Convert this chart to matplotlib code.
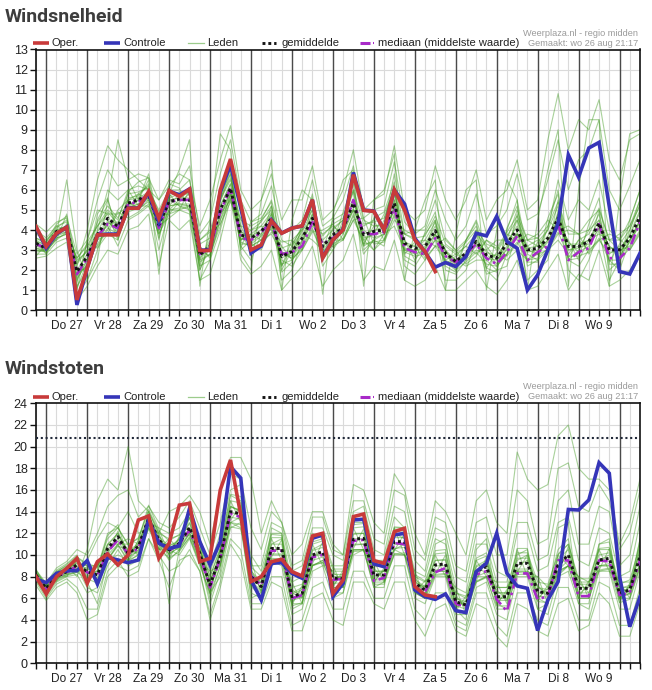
import numpy as np
import matplotlib
matplotlib.use("Agg")
import matplotlib.pyplot as plt

# ---------------- data ----------------
day_labels = ["Do 27", "Vr 28", "Za 29", "Zo 30", "Ma 31", "Di 1", "Wo 2",
              "Do 3", "Vr 4", "Za 5", "Zo 6", "Ma 7", "Di 8", "Wo 9"]
n_steps = 60  # 6-hourly steps, wo 26 18:00 .. do 10 12:00

speed_oper = [4.18,3.18,3.84,4.14, 0.52,2.1,3.76,3.76, 3.76,5.09,5.09,5.92, 4.59,5.97,5.67,6.04,
              2.98,2.98,6.0,7.54, 5.3,3.01,3.26,4.46, 3.84,4.09,4.21,5.51, 2.6,3.51,4.01,6.76,
              4.98,4.93,4.01,6.01, 5.0,3.51,2.93,1.93]
speed_ctrl = [4.15,3.1,3.8,4.15, 0.27,2.1,3.75,3.8, 3.8,5.1,5.1,5.85, 4.4,5.95,5.75,6.05,
              3.0,3.0,5.9,7.25, 5.1,2.85,3.2,4.5, 3.85,4.1,4.2,5.5, 2.65,3.5,4.05,6.87,
              5.0,4.95,4.0,6.0, 5.3,3.6,2.9,2.15, 2.38,2.18,2.68,3.84, 3.71,4.68,3.43,3.09,
              1.01,1.76,3.01,4.34, 7.75,6.64,8.09,8.37, 5.17,1.93,1.81,2.85]
speed_mean = [3.34,3.09,3.93,4.09, 1.93,2.68,3.76,4.59, 4.18,5.34,5.51,5.76, 4.26,5.42,5.54,5.51,
              2.76,3.21,5.01,6.09, 3.76,3.59,3.93,4.59, 2.68,2.93,3.59,4.59, 3.18,3.76,4.09,5.34,
              3.76,3.93,4.01,5.34, 3.34,3.09,3.18,3.97, 2.85,2.43,2.85,3.43, 2.76,2.6,3.34,4.01,
              3.01,3.09,3.59,4.59, 3.18,3.18,3.43,4.34, 3.01,3.01,3.59,4.68]
speed_median = [3.3,3.1,3.8,4.1, 1.8,2.6,3.7,4.3, 4.1,5.3,5.4,5.8, 4.1,5.4,5.5,5.5,
                2.8,3.1,4.9,6.1, 3.6,3.5,3.9,4.4, 2.8,2.9,3.2,4.4, 3.3,3.6,4.0,5.5,
                3.8,3.8,3.9,5.1, 3.1,2.9,2.8,3.6, 2.7,2.4,2.8,3.3, 2.6,2.3,2.9,3.7,
                2.5,2.9,3.2,4.3, 2.5,2.9,3.1,4.3, 2.6,2.6,3.1,4.4]
speed_leden = [
    [4.3,3.9,4.4,4.6, 2.8,3.5,5.5,7.0, 6.2,6.5,6.8,6.6, 5.5,6.5,6.3,7.2, 3.8,4.5,6.8,8.5, 5.5,4.4,4.8,6.2,
     3.8,4.0,4.5,6.5, 4.2,4.6,5.5,7.2, 4.6,5.0,5.2,7.4, 4.4,3.8,4.2,6.0, 4.5,3.5,4.2,5.8, 3.8,4.2,5.0,6.8,
     4.5,4.8,6.5,8.5, 6.0,7.5,8.0,9.5, 6.0,5.0,6.2,7.5],
    [2.6,2.7,3.1,3.4, 0.5,1.2,2.2,3.0, 2.8,4.0,4.2,4.8, 2.2,4.5,4.0,4.5, 1.5,1.8,3.5,5.6, 2.5,1.8,2.2,3.0,
     1.0,1.6,2.2,3.2, 1.2,2.0,2.5,3.8, 1.5,2.2,2.0,3.5, 1.5,1.2,1.5,2.2, 1.0,1.0,1.5,2.0, 1.2,0.8,1.5,2.5,
     1.0,1.2,2.0,2.8, 1.0,1.8,1.5,3.0, 1.2,1.5,2.0,2.8],
    [3.5,3.2,4.2,4.4, 1.2,2.0,4.5,5.5, 4.0,5.0,5.8,6.2, 3.5,5.8,5.2,5.0, 2.5,3.5,5.8,6.8, 4.2,3.2,3.5,5.2,
     2.0,3.0,4.0,5.8, 2.5,3.2,4.5,6.0, 3.0,3.5,4.5,6.2, 2.5,2.2,3.0,4.5, 2.0,1.8,2.5,4.0, 2.0,1.5,2.8,4.8,
     2.2,2.5,3.0,5.5, 2.5,2.2,3.0,5.0, 2.0,2.5,4.0,5.5],
    [3.0,2.9,3.6,3.8, 2.4,3.0,3.2,4.0, 5.0,5.5,5.0,5.5, 4.8,5.2,5.8,5.8, 3.2,2.6,4.5,6.0, 3.5,4.0,4.2,4.0,
     3.2,2.5,3.2,4.2, 3.8,4.2,3.8,5.0, 4.2,4.5,3.5,4.8, 3.8,3.5,2.8,3.5, 3.2,2.8,3.2,2.8, 3.5,3.0,3.8,3.5,
     3.5,3.8,4.5,4.0, 4.2,3.8,4.5,5.0, 3.5,3.8,4.2,5.2],
    [3.8,3.5,4.0,4.2, 1.5,2.5,4.0,6.0, 5.5,6.0,5.2,5.2, 4.0,5.0,5.5,6.0, 2.2,3.8,5.5,7.0, 3.0,3.5,4.5,5.0,
     2.2,3.5,4.0,4.5, 3.0,4.5,4.8,5.5, 3.5,3.8,4.8,6.0, 3.0,2.8,3.8,4.5, 2.5,2.2,3.5,4.2, 2.5,2.0,4.0,5.5,
     2.8,2.5,4.2,6.0, 2.5,3.0,4.0,4.5, 2.5,2.0,3.5,4.5],
    [2.9,3.0,3.8,3.9, 2.0,2.8,3.5,3.8, 3.5,5.0,5.5,5.6, 4.5,5.5,5.2,5.2, 2.8,3.0,4.8,5.5, 3.8,3.0,3.2,4.5,
     2.5,2.2,3.0,4.0, 2.8,3.5,3.5,4.5, 3.5,3.0,3.8,5.0, 3.0,3.0,3.5,3.2, 3.0,2.5,2.2,2.5, 2.5,2.8,2.5,3.0,
     2.5,2.8,3.0,3.5, 2.8,3.5,3.0,3.5, 2.8,3.2,3.0,3.8],
    [3.2,3.0,3.5,4.8, 2.2,4.0,6.5,8.2, 7.5,7.0,6.5,6.0, 5.5,6.2,6.8,6.5, 4.2,5.5,7.5,9.2, 6.0,5.0,5.5,6.8,
     4.5,5.5,5.5,7.2, 4.5,5.0,6.0,8.0, 5.0,5.5,5.8,8.2, 5.0,4.5,5.0,7.2, 5.5,4.5,5.5,7.0, 4.5,5.5,6.0,7.5,
     5.0,5.5,8.5,10.8, 8.0,9.5,9.0,10.5, 7.5,6.5,8.5,8.8],
    [3.4,3.3,3.9,4.0, 0.8,1.5,3.0,4.5, 3.8,5.5,5.8,5.5, 3.0,5.0,5.0,4.8, 1.5,2.5,4.0,5.8, 3.2,2.5,3.8,4.8,
     1.5,2.0,3.5,4.8, 2.2,3.0,4.2,5.0, 2.8,3.5,3.2,5.5, 2.2,1.8,2.5,3.8, 1.5,1.5,2.0,3.5, 1.8,2.0,2.2,4.0,
     1.5,2.0,2.5,5.0, 2.0,1.5,2.5,4.0, 1.5,2.5,3.5,4.2],
    [4.0,3.6,4.2,4.0, 2.6,3.2,4.2,5.0, 4.5,6.0,6.2,6.0, 5.0,6.0,6.0,6.5, 3.5,4.0,5.5,6.5, 4.5,4.2,4.5,5.5,
     3.5,3.2,4.2,5.0, 3.5,4.0,4.5,6.5, 4.5,4.2,4.2,6.8, 3.8,4.0,4.0,5.5, 3.5,3.0,3.5,4.5, 3.0,3.5,3.5,5.0,
     3.5,3.2,4.0,6.5, 4.5,5.5,5.0,6.5, 4.0,3.5,4.5,6.0],
    [2.8,2.8,3.4,3.6, 1.8,2.2,3.8,4.2, 3.2,4.5,4.8,5.2, 3.8,4.8,5.4,5.8, 2.5,2.8,4.2,5.8, 3.5,3.8,3.5,3.8,
     2.8,3.0,3.8,3.5, 3.0,3.2,3.5,4.8, 3.2,3.5,3.8,4.2, 3.0,3.2,2.5,3.2, 2.5,2.8,2.5,3.0, 2.8,2.2,2.8,3.8,
     3.0,2.8,3.5,4.2, 3.5,2.5,3.5,3.8, 3.5,3.0,3.2,4.5],
    [3.6,3.3,3.8,6.5, 3.0,1.5,2.5,5.5, 8.5,6.5,5.5,6.5, 1.8,5.8,7.0,8.5, 1.2,4.5,8.8,8.0, 2.8,2.0,5.5,7.5,
     1.0,4.5,6.0,5.5, 0.8,4.8,6.5,7.0, 1.2,5.5,6.0,7.8, 1.5,4.0,5.5,6.5, 1.0,3.8,6.0,6.5, 1.0,4.0,6.5,5.5,
     1.0,4.5,7.0,9.0, 1.2,6.0,9.5,9.5, 1.2,5.5,8.8,9.0],
    [3.1,3.0,3.7,4.3, 1.0,3.5,5.0,4.8, 4.8,5.2,5.5,6.8, 4.2,4.6,5.0,5.2, 2.0,3.2,5.2,6.3, 3.3,3.3,3.0,4.2,
     2.8,2.6,3.0,5.5, 3.0,3.0,3.8,5.5, 3.8,3.0,3.5,5.2, 3.5,2.5,3.2,4.0, 3.0,2.0,2.8,3.8, 3.2,2.5,3.0,4.5,
     3.2,3.5,3.0,4.8, 3.0,3.2,3.5,4.2, 3.2,2.8,3.8,5.0],
    [3.6,3.4,4.1,4.5, 2.3,3.0,4.4,5.2, 4.6,5.8,5.9,6.1, 4.9,5.7,5.9,5.9, 3.3,3.6,5.6,6.6, 4.2,4.0,4.4,5.2,
     3.1,3.3,4.1,5.2, 3.7,4.3,4.6,6.0, 4.3,4.4,4.6,6.0, 3.8,3.6,3.7,4.7, 3.3,2.9,3.4,4.0, 3.3,3.1,3.9,4.7,
     3.5,3.6,4.2,5.4, 3.8,3.8,4.0,5.1, 3.5,3.5,4.2,5.5],
    [3.1,2.9,3.6,3.8, 1.6,2.3,3.3,4.1, 3.8,4.9,5.1,5.4, 3.8,5.0,5.1,5.1, 2.4,2.8,4.5,5.6, 3.4,3.2,3.5,4.1,
     2.3,2.5,3.1,4.1, 2.8,3.3,3.6,4.7, 3.3,3.4,3.5,4.7, 2.9,2.7,2.8,3.5, 2.4,2.0,2.4,2.9, 2.3,2.2,2.8,3.4,
     2.5,2.6,3.1,3.9, 2.7,2.7,2.9,3.6, 2.5,2.5,3.1,4.0],
    [3.9,3.4,4.3,4.7, 1.1,2.4,4.8,5.6, 3.6,5.9,6.4,6.6, 3.9,6.3,6.1,4.9, 2.2,2.5,5.6,7.2, 3.1,4.4,4.6,5.4,
     1.9,2.4,4.3,5.6, 2.6,3.3,4.9,6.3, 3.2,4.6,4.9,6.4, 2.7,2.4,3.9,4.9, 2.2,1.9,3.5,4.4, 2.1,1.9,4.1,5.2,
     2.4,2.4,4.6,5.8, 2.5,2.6,4.3,5.6, 2.3,2.3,4.5,6.0],
    [2.7,3.3,3.5,3.9, 2.6,3.3,3.1,3.8, 4.9,4.6,4.9,5.3, 4.7,4.8,5.0,6.0, 3.5,3.9,4.3,5.4, 4.6,3.0,3.3,3.9,
     3.4,3.5,3.0,3.9, 4.0,4.3,3.5,4.5, 4.6,3.3,3.4,4.5, 4.0,3.7,2.6,3.2, 3.6,3.0,2.3,2.7, 3.5,3.2,2.7,3.3,
     3.8,3.6,3.0,3.8, 4.0,3.8,2.8,3.5, 3.8,3.6,3.0,3.9],
    [3.5,2.8,4.0,4.2, 1.4,3.4,4.2,4.8, 3.5,5.6,5.7,6.3, 3.6,5.6,5.8,5.9, 2.0,3.4,5.4,6.8, 3.5,3.8,4.2,4.9,
     2.2,3.2,3.9,5.0, 2.6,4.1,4.5,5.9, 3.3,4.2,4.3,5.9, 2.8,3.4,3.5,4.4, 2.3,2.7,3.2,3.8, 2.1,2.9,3.7,4.5,
     2.4,3.4,4.0,5.2, 2.6,3.5,3.8,4.8, 2.4,3.3,4.0,5.3],
    [3.2,3.2,3.7,3.9, 2.1,2.0,3.5,4.3, 4.4,5.1,5.3,5.5, 4.4,5.2,5.3,5.2, 3.0,2.7,4.7,5.8, 4.0,3.3,3.7,4.3,
     2.9,2.6,3.4,4.4, 3.4,3.5,3.9,5.0, 4.0,3.6,3.8,5.0, 3.5,2.8,3.0,3.8, 3.0,2.2,2.6,3.2, 3.0,2.3,3.1,3.8,
     3.2,2.8,3.4,4.4, 3.4,2.9,3.2,4.1, 3.2,2.7,3.4,4.4],
    [3.4,3.1,3.9,4.2, 2.5,2.9,3.9,4.9, 4.3,5.5,5.6,5.9, 4.6,5.5,5.6,5.6, 2.6,3.3,5.2,6.3, 3.9,3.7,4.0,4.8,
     2.6,2.9,3.7,4.8, 3.1,3.8,4.2,5.5, 3.8,4.0,4.1,5.5, 3.4,3.2,3.3,4.2, 2.9,2.5,2.9,3.5, 2.9,2.7,3.4,4.2,
     3.1,3.2,3.7,4.8, 3.3,3.3,3.5,4.5, 3.1,3.1,3.7,4.9],
    [3.0,3.0,3.8,4.0, 1.7,2.5,3.6,4.4, 4.0,5.1,5.3,5.6, 4.0,5.2,5.3,5.3, 3.0,3.0,4.8,5.9, 3.6,3.4,3.8,4.4,
     2.9,2.7,3.5,4.4, 3.0,3.6,4.0,5.1, 3.6,3.8,3.9,5.1, 3.1,3.0,3.1,3.8, 2.7,2.3,2.8,3.3, 2.6,2.5,3.2,3.8,
     2.9,3.0,3.5,4.4, 3.0,3.1,3.3,4.1, 2.9,2.9,3.5,4.5],
]

gust_oper = [8.0,6.4,8.0,8.77, 9.69,7.38,9.38,10.09, 9.08,10.0,13.23,13.6, 9.69,11.08,14.6,14.77,
             9.38,9.69,16.0,18.77, 13.7,7.54,8.0,9.38, 9.6,8.46,8.06,11.75, 12.0,6.46,7.69,13.54,
             13.78,9.48,9.23,12.15, 12.46,7.08,6.31,6.15]
gust_ctrl = [7.75,7.45,8.3,8.55, 8.55,9.48,7.32,9.78, 9.54,9.29,9.54,13.23, 11.08,10.6,10.83,14.3,
             11.23,9.08,11.23,18.15, 17.1,7.69,5.85,9.23, 9.29,8.3,7.85,11.54, 11.85,6.15,7.38,13.23,
             13.3,9.17,8.92,11.85, 12.0,6.77,6.15,5.9, 6.4,4.86,4.68,8.46, 9.23,12.0,8.31,7.14,
             6.92,3.02,5.85,7.54, 14.2,14.15,15.08,18.52, 17.54,8.0,3.38,6.15]
gust_mean = [8.15,6.92,8.0,8.46, 9.08,8.46,8.15,10.6, 11.69,10.15,10.77,13.38, 11.38,10.46,11.08,12.55,
             10.15,7.23,9.85,14.0, 13.8,8.0,7.08,10.6, 10.6,6.15,6.46,10.0, 10.3,7.85,7.85,11.45,
             11.54,8.15,8.15,11.23, 11.23,7.38,6.77,9.08, 9.17,5.69,5.38,8.46, 8.92,6.15,6.15,9.23,
             9.23,6.62,6.46,9.08, 10.0,6.92,6.92,9.54, 9.69,6.46,6.77,9.85]
gust_median = [8.1,6.9,8.0,8.4, 9.0,8.4,8.1,10.3, 11.4,10.1,10.6,13.2, 11.3,10.4,11.0,12.3,
               10.0,7.0,9.7,13.8, 13.5,8.1,7.2,10.4, 10.4,6.0,6.3,9.8, 10.0,7.7,7.8,11.3,
               11.4,7.6,7.9,11.1, 11.0,7.0,6.6,8.4, 8.8,5.5,5.2,8.2, 8.5,5.9,4.8,8.3,
               8.3,5.9,6.2,9.5, 9.5,6.2,6.2,9.5, 9.4,6.3,6.5,9.5]
gust_threshold = 20.8
gust_leden = [
    [8.6,7.4,8.8,9.4, 10.5,10.0,12.0,14.5, 15.5,16.0,13.5,14.5, 13.0,12.5,13.5,15.0, 12.5,10.0,13.0,17.5,
     17.0,12.5,10.5,14.0, 13.0,9.0,9.5,13.5, 13.5,10.5,10.0,15.0, 15.0,11.5,11.0,16.0, 15.5,10.5,9.5,13.5,
     13.0,9.0,8.5,13.0, 13.5,10.0,10.0,16.0, 15.0,11.0,11.5,18.0, 18.5,14.5,14.0,16.5, 15.0,10.5,12.0,16.0],
    [7.2,5.8,7.0,7.5, 6.5,4.0,4.5,8.0, 9.0,8.5,9.0,11.5, 9.5,7.0,9.5,10.0, 8.5,4.0,7.0,11.0,
     9.5,5.0,5.0,7.5, 7.0,3.0,3.0,6.0, 6.5,4.0,3.5,7.5, 7.5,5.5,5.0,7.5, 7.5,4.0,2.5,5.0,
     5.5,3.0,2.5,5.5, 5.0,2.5,1.5,5.5, 5.0,3.0,2.5,5.5, 6.0,3.0,3.5,6.5, 5.5,2.5,2.5,5.5],
    [8.0,7.0,8.2,8.6, 9.0,8.0,8.5,11.0, 12.0,10.0,11.0,13.5, 11.5,10.5,11.5,13.0, 10.5,7.5,10.0,14.5,
     14.0,8.5,7.5,11.0, 11.5,6.5,7.0,10.5, 11.0,8.0,8.0,12.0, 12.0,8.5,8.5,12.0, 11.5,7.5,7.0,9.5,
     9.5,6.0,5.5,9.0, 9.5,6.5,6.5,9.5, 10.0,7.0,6.5,10.0, 11.0,7.5,7.5,10.5, 10.5,7.0,7.0,10.5],
    [7.6,6.5,7.8,8.2, 8.5,9.5,11.5,13.0, 12.5,14.0,12.0,12.5, 11.0,5.5,10.5,12.0, 9.5,6.0,9.0,13.0,
     13.5,7.5,6.5,12.5, 12.0,5.0,5.5,11.5, 12.0,6.5,6.5,10.5, 10.5,7.0,7.0,12.5, 12.5,6.5,6.0,11.0,
     11.5,5.0,4.0,10.5, 11.5,5.5,5.0,10.0, 10.5,5.0,5.5,12.5, 13.0,5.5,5.5,11.0, 11.5,6.0,6.5,11.5],
    [8.3,6.8,8.5,9.0, 8.0,10.5,15.0,17.0, 16.0,20.0,15.0,14.0, 12.0,14.0,14.5,15.5, 14.0,11.0,16.0,19.0,
     19.0,17.0,12.0,15.0, 13.0,10.0,11.0,14.0, 14.0,11.0,10.0,16.5, 16.0,13.0,12.0,17.5, 16.0,12.0,10.0,15.0,
     14.0,12.0,10.0,15.0, 16.0,13.0,12.0,19.5, 17.0,16.0,16.5,21.0, 22.0,18.0,17.0,17.0, 16.0,11.0,13.0,17.0],
    [8.1,7.1,7.9,8.4, 9.5,8.5,7.5,10.0, 11.0,9.5,10.5,13.0, 11.0,11.0,11.0,12.5, 10.0,7.0,9.5,14.0,
     13.5,8.0,7.0,10.5, 10.5,6.0,6.5,10.0, 10.0,7.5,8.0,11.5, 11.5,8.0,8.5,11.0, 11.0,7.5,7.0,9.0,
     9.0,5.5,5.5,8.5, 9.0,6.0,6.0,9.0, 9.5,6.5,6.5,9.0, 10.0,7.0,7.0,9.5, 10.0,6.5,7.0,10.0],
    [7.9,6.6,8.1,8.3, 9.8,9.0,9.0,10.5, 11.5,10.5,10.0,13.5, 11.8,10.0,10.8,12.5, 10.5,8.0,10.5,14.5,
     14.0,7.0,8.0,10.0, 10.0,6.5,6.0,9.0, 9.5,8.5,8.5,11.0, 11.0,9.0,9.0,10.5, 11.0,8.0,7.5,8.5,
     8.5,6.5,6.0,8.0, 8.0,7.0,7.0,8.5, 8.5,8.0,7.0,8.5, 9.0,8.0,7.5,9.0, 9.0,7.5,7.5,9.0],
    [8.4,7.2,8.3,8.8, 8.8,7.0,6.5,9.0, 10.5,9.0,9.5,12.5, 11.0,9.5,10.5,12.0, 9.5,5.5,8.5,13.0,
     12.5,6.5,6.0,9.5, 9.0,4.5,5.0,8.5, 9.0,6.0,6.5,10.0, 10.5,7.0,7.5,10.0, 10.0,6.0,5.5,8.0,
     8.0,4.0,3.5,7.0, 7.5,4.5,4.0,8.0, 8.0,5.0,4.5,8.0, 8.5,5.5,5.0,8.5, 8.5,5.0,5.0,8.5],
    [8.2,7.0,7.6,8.9, 9.2,9.0,8.8,12.0, 12.5,11.0,11.5,14.0, 12.0,11.5,11.8,13.5, 11.0,8.5,11.0,15.5,
     15.0,10.0,8.5,12.0, 12.0,7.5,8.0,12.0, 11.5,9.0,9.0,13.0, 13.0,9.5,9.5,13.5, 12.5,8.5,8.0,11.5,
     11.0,7.0,6.5,11.0, 11.0,7.5,7.5,12.0, 12.0,8.5,9.0,13.0, 13.5,9.5,9.0,12.5, 12.0,8.0,8.5,13.0],
    [7.7,6.2,7.5,8.0, 8.2,6.5,7.0,9.5, 10.0,9.5,10.0,12.8, 10.5,10.5,10.0,11.5, 9.0,6.5,8.0,12.5,
     13.0,6.0,6.5,9.0, 9.5,5.5,5.5,9.0, 9.5,7.0,7.0,10.5, 10.5,7.5,7.5,10.5, 10.0,6.5,6.0,8.5,
     8.5,4.5,4.5,7.5, 8.0,5.0,5.0,8.5, 8.5,6.0,5.5,8.5, 9.0,6.0,6.0,9.0, 9.0,6.0,6.0,9.0],
    [8.5,7.3,8.6,9.2, 10.0,7.5,5.5,9.5, 11.0,11.5,11.0,13.0, 12.5,12.0,12.5,14.0, 11.5,9.0,12.0,16.0,
     16.5,9.0,9.0,13.0, 12.5,8.5,9.0,12.5, 12.5,10.0,9.5,14.0, 14.5,10.5,10.0,14.5, 14.0,9.5,8.5,12.5,
     12.0,8.0,7.5,12.0, 12.0,8.5,8.0,13.0, 13.0,9.5,10.0,15.0, 16.0,11.0,11.0,14.5, 14.0,9.0,10.0,14.5],
    [7.5,6.0,7.3,7.8, 7.0,5.0,5.0,8.5, 9.5,8.0,8.5,11.5, 10.0,8.5,9.0,10.5, 8.5,4.5,7.5,11.5,
     10.5,5.5,5.5,8.0, 8.0,3.5,4.0,7.0, 7.5,5.0,5.0,8.5, 8.5,6.0,6.0,9.0, 9.0,5.0,4.0,6.5,
     6.5,3.5,3.0,6.5, 6.5,3.5,2.5,6.5, 6.5,4.0,3.5,7.0, 7.0,4.0,4.0,7.5, 7.0,3.5,3.5,7.0],
    [8.4,7.2,8.4,8.9, 9.8,9.2,8.9,11.5, 12.5,10.9,11.6,14.2, 12.2,11.3,11.9,13.4, 11.0,8.0,10.7,15.0,
     14.8,8.9,8.0,11.6, 11.6,7.0,7.3,11.0, 11.3,8.7,8.7,12.5, 12.6,9.0,9.0,12.3, 12.2,8.2,7.6,10.1,
     10.2,6.5,6.2,9.5, 9.9,7.0,7.0,10.2, 10.2,7.5,7.3,10.1, 11.0,7.8,7.8,10.6, 10.7,7.3,7.7,10.9],
    [7.9,6.6,7.6,8.1, 8.4,7.8,7.4,9.7, 10.9,9.4,10.0,12.6, 10.6,9.7,10.3,11.7, 9.3,6.4,9.0,13.0,
     12.8,7.1,6.2,9.6, 9.6,5.3,5.6,9.0, 9.3,7.0,7.0,10.4, 10.5,7.3,7.3,10.1, 10.2,6.6,6.0,8.1,
     8.2,4.9,4.6,7.5, 7.9,5.3,5.3,8.2, 8.2,5.7,5.6,8.1, 9.0,6.0,6.0,8.5, 8.7,5.6,5.9,8.8],
    [8.3,6.5,8.2,8.0, 9.5,7.5,9.0,11.0, 11.0,11.0,10.0,14.0, 10.5,11.5,10.5,13.5, 9.5,8.5,9.0,15.0,
     13.0,9.5,6.5,11.5, 9.5,7.5,5.5,11.0, 9.0,9.0,7.0,12.5, 10.5,9.5,7.5,12.5, 10.0,8.5,6.0,10.0,
     8.0,7.0,4.5,9.5, 8.0,7.5,5.5,10.5, 8.0,8.0,5.5,10.0, 9.0,8.0,6.0,10.5, 8.5,7.5,6.0,11.0],
    [7.8,7.2,7.7,8.8, 8.6,9.2,7.6,10.0, 12.2,9.4,11.4,12.8, 12.0,9.6,11.6,11.8, 10.8,6.4,10.6,13.2,
     14.6,7.2,7.8,9.8, 11.4,5.4,7.2,9.2, 11.2,7.0,8.6,10.6, 12.4,7.4,8.8,10.4, 12.0,6.6,7.6,8.2,
     10.0,4.8,6.2,7.6, 9.8,5.4,6.8,8.4, 10.0,5.8,7.2,8.2, 10.8,6.0,7.6,8.6, 10.6,5.6,7.4,9.0],
    [8.0,7.0,8.1,8.6, 9.3,8.7,8.4,10.9, 12.0,10.4,11.0,13.7, 11.7,10.8,11.4,12.9, 10.5,7.5,10.2,14.4,
     14.2,8.3,7.4,11.0, 11.0,6.4,6.8,10.4, 10.7,8.2,8.2,11.9, 12.0,8.5,8.5,11.6, 11.6,7.7,7.1,9.5,
     9.6,6.0,5.7,8.9, 9.3,6.5,6.5,9.7, 9.7,7.0,6.8,9.6, 10.5,7.3,7.3,10.0, 10.2,6.9,7.2,10.4],
    [8.2,6.8,7.9,8.3, 8.8,8.2,7.9,10.3, 11.3,9.8,10.4,13.0, 11.0,10.1,10.7,12.1, 9.7,6.9,9.4,13.5,
     13.3,7.6,6.7,10.1, 10.1,5.8,6.1,9.5, 9.8,7.4,7.4,10.9, 11.0,7.7,7.7,10.6, 10.7,7.0,6.4,8.6,
     8.7,5.3,5.0,8.0, 8.4,5.8,5.8,8.7, 8.7,6.2,6.1,8.6, 9.5,6.5,6.5,9.0, 9.2,6.1,6.4,9.3],
    [8.7,6.9,8.4,9.1, 9.9,7.8,8.6,11.8, 12.8,9.7,11.3,14.6, 12.4,10.0,11.7,13.8, 11.2,6.6,10.5,15.6,
     15.4,7.3,7.5,11.9, 11.8,5.6,6.9,11.2, 11.5,7.2,8.3,12.8, 12.9,7.6,8.6,12.6, 12.5,6.8,7.2,10.4,
     10.5,5.1,5.8,9.7, 10.2,5.6,6.5,10.6, 10.6,6.0,6.9,10.5, 11.5,6.3,7.3,11.0, 11.2,5.9,7.2,11.4],
    [7.6,7.1,7.7,8.2, 8.4,8.9,7.7,9.6, 10.8,10.5,10.2,12.4, 10.5,10.9,10.4,11.6, 9.2,7.8,9.2,12.6,
     12.4,8.7,6.7,9.7, 9.6,6.8,6.1,9.1, 9.3,8.5,7.4,10.3, 10.4,8.8,7.7,10.1, 10.0,8.0,6.4,8.2,
     8.3,6.3,5.0,7.6, 8.0,6.8,5.8,8.4, 8.3,7.2,6.1,8.3, 9.0,7.5,6.5,8.6, 8.8,7.1,6.4,8.9],
]

# ---------------- styling ----------------
FONT = "Liberation Sans"
C_OPER = "#c83a3a"
C_CTRL = "#3535b8"
C_LEDEN = "#3f9a1f"
C_MEAN = "#151515"
C_MED = "#a82ac8"
W, H = 652, 690

fig = plt.figure(figsize=(W / 100, H / 100), dpi=100)
fig.patch.set_facecolor("white")


def fx(px):
    return px / W


def fy(py):
    return 1 - py / H


def panel(ax, oper, ctrl, mean, median, leden, ymax, ystep, threshold=None):
    x = np.arange(n_steps)
    ax.set_xlim(0, n_steps - 1)
    ax.set_ylim(0, ymax)
    # grid
    for s in range(n_steps):
        ax.axvline(s, color="#dadada", lw=0.8, zorder=0)
    for yv in np.arange(ystep, ymax, ystep):
        ax.axhline(yv, color="#dadada", lw=0.8, zorder=0)
    for s in range(1, n_steps, 4):
        ax.axvline(s, color="#4a4a4a", lw=1.0, zorder=1)
    # members
    for m in leden:
        ax.plot(x, m, color=C_LEDEN, lw=0.8, alpha=0.45, zorder=2)
    ax.plot(x, median, color=C_MED, lw=1.9, ls=(0, (4, 1.6, 1, 1.6)), zorder=3)
    ax.plot(x, mean, color=C_MEAN, lw=2.1, ls=(0, (1, 1)), zorder=4)
    ax.plot(x, ctrl, color=C_CTRL, lw=2.6, zorder=5, solid_joinstyle="miter")
    ax.plot(x[:len(oper)], oper, color=C_OPER, lw=2.6, zorder=6, solid_joinstyle="miter")
    if threshold is not None:
        ax.axhline(threshold, color="#222a3a", lw=1.5, ls=(0, (1, 1.3)), zorder=4)
    # ticks
    ax.set_yticks(np.arange(0, ymax + 0.01, ystep))
    ax.set_yticklabels([f"{int(v)}" for v in np.arange(0, ymax + 0.01, ystep)],
                       fontfamily=FONT, fontsize=9, color="#222222")
    labels = [""] * n_steps
    for i, d in enumerate(day_labels):
        labels[3 + 4 * i] = d
    ax.set_xticks(x)
    ax.set_xticklabels(labels, fontfamily=FONT, fontsize=8.6, color="#222222")
    ax.tick_params(axis="x", length=4.5, width=1.0, pad=2.5, color="#111111")
    ax.tick_params(axis="y", length=4.5, width=1.0, pad=1.5, color="#111111")
    for sp in ax.spines.values():
        sp.set_color("#111111")
        sp.set_linewidth(1.2)
    ax.set_facecolor("white")


def legend_row(ax, ax_top_px, leg_px):
    """Legend items and credit text drawn above the axes (pixel positions)."""
    x0, x1 = 36.0, 640.0
    h = ax.get_position().height * H

    def ax_x(px):
        return (px - x0) / (x1 - x0)

    ly = 1 + (ax_top_px - leg_px) / h
    fs = 8.0
    kw = dict(transform=ax.transAxes, clip_on=False)
    tkw = dict(va="center", ha="left", fontfamily=FONT, fontsize=fs, color="#222222",
               transform=ax.transAxes)
    ax.plot([ax_x(33), ax_x(49)], [ly, ly], color=C_OPER, lw=2.6, solid_capstyle="butt", **kw)
    ax.text(ax_x(52), ly, "Oper.", **tkw)
    ax.plot([ax_x(104), ax_x(120)], [ly, ly], color=C_CTRL, lw=2.6, solid_capstyle="butt", **kw)
    ax.text(ax_x(123), ly, "Controle", **tkw)
    ax.plot([ax_x(188), ax_x(204)], [ly, ly], color="#9ccc8c", lw=0.9, **kw)
    ax.text(ax_x(207), ly, "Leden", **tkw)
    ax.plot([ax_x(262), ax_x(276)], [ly, ly], color=C_MEAN, lw=2.1, ls=(0, (1, 1)),
            solid_capstyle="butt", **kw)
    ax.text(ax_x(281), ly, "gemiddelde", **tkw)
    ax.plot([ax_x(360), ax_x(370)], [ly, ly], color=C_MED, lw=2.2, solid_capstyle="butt", **kw)
    ax.plot([ax_x(373), ax_x(374.5)], [ly, ly], color=C_MED, lw=1.5, solid_capstyle="butt", **kw)
    ax.text(ax_x(378), ly, "mediaan (middelste waarde)", **tkw)
    ly2 = 1 + (ax_top_px - (leg_px - 10)) / h
    ckw = dict(va="center", ha="right", fontfamily=FONT, fontsize=6.6, color="#9a9a9a",
               transform=ax.transAxes)
    ax.text(ax_x(638), ly2, "Weerplaza.nl - regio midden", **ckw)
    ax.text(ax_x(638), ly, "Gemaakt: wo 26 aug 21:17", **ckw)


# panel 1: Windsnelheid
top1, bot1 = 49.5, 310.3
ax1 = fig.add_axes([fx(36), fy(bot1), fx(604), (bot1 - top1) / H])
panel(ax1, speed_oper, speed_ctrl, speed_mean, speed_median, speed_leden, 13, 1)
legend_row(ax1, top1, 43.3)
fig.text(fx(5), fy(16.5), "Windsnelheid", fontfamily="Roboto", fontweight="bold",
         fontsize=14, color="#3d3d3d", va="center", ha="left")

# panel 2: Windstoten
top2, bot2 = 403.3, 663.3
ax2 = fig.add_axes([fx(36), fy(bot2), fx(604), (bot2 - top2) / H])
panel(ax2, gust_oper, gust_ctrl, gust_mean, gust_median, gust_leden, 24, 2, threshold=gust_threshold)
legend_row(ax2, top2, 396.5)
fig.text(fx(5), fy(369), "Windstoten", fontfamily="Roboto", fontweight="bold",
         fontsize=14, color="#3d3d3d", va="center", ha="left")

fig.savefig("out.png", dpi=100, facecolor="white")
